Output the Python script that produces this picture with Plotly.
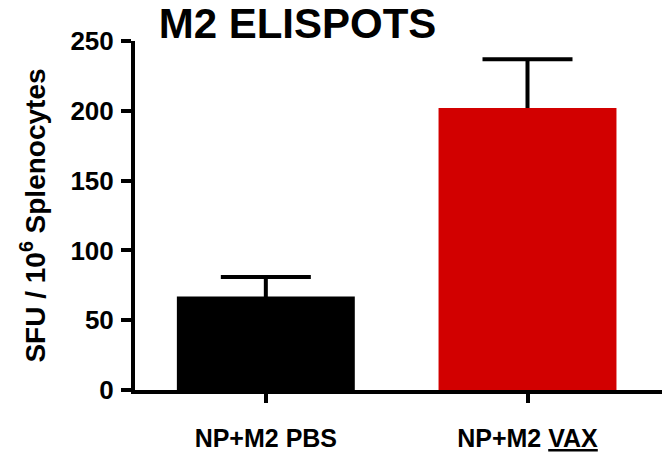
import plotly.graph_objects as go

categories = ["NP+M2 PBS", "NP+M2 <u>VAX</u>"]
means = [67, 202]
errors = [14, 35]
bar_colors = ["#000000", "#d20000"]
y_ticks = [0, 50, 100, 150, 200, 250]

FONT = "Arial, Liberation Sans, sans-serif"

fig = go.Figure()
# error bars underneath (hidden lower half behind the bars)
fig.add_trace(go.Bar(
    x=[0, 1],
    y=means,
    width=0.68,
    marker=dict(color="rgba(0,0,0,0)", line=dict(width=0)),
    error_y=dict(type="data", symmetric=True, array=errors,
                 color="#000000", thickness=4, width=45),
    showlegend=False, hoverinfo="skip",
))
fig.add_trace(go.Bar(
    x=[0, 1],
    y=means,
    width=0.68,
    marker=dict(color=bar_colors, line=dict(width=0)),
    showlegend=False,
))

fig.update_layout(
    width=662, height=453,
    margin=dict(l=135, r=0, t=41, b=63, autoexpand=False),
    paper_bgcolor="white", plot_bgcolor="white",
    barmode="overlay",
    title=dict(text="<b>M2 ELISPOTS</b>", font=dict(family=FONT, size=42, color="black"),
               x=297.5 / 662, xref="container", xanchor="center",
               y=1 - 23 / 453, yref="container", yanchor="middle", automargin=False),
    font=dict(family=FONT, color="black"),
)

fig.update_xaxes(
    range=[-0.5, 1.514],
    tickvals=[0, 1], ticktext=["<b>" + c + "</b>" for c in categories],
    tickfont=dict(family=FONT, size=25, color="black"),
    ticks="outside", ticklen=9, tickwidth=4, tickcolor="black",
    showline=True, linewidth=4, linecolor="black",
    showgrid=False, zeroline=False, automargin=False,
    ticklabelstandoff=14,
)
fig.update_yaxes(
    range=[0, 250],
    tickvals=y_ticks, ticktext=["<b>%d</b>" % v for v in y_ticks],
    tickfont=dict(family=FONT, size=26, color="black"),
    ticks="outside", ticklen=10, tickwidth=4, tickcolor="black",
    showline=True, linewidth=4, linecolor="black",
    showgrid=False, zeroline=False, automargin=False,
    title=dict(text="<b>SFU / 10<sup>6</sup> Splenocytes</b>",
               font=dict(family=FONT, size=28, color="black"), standoff=18),
    ticklabelstandoff=2,
)

fig.write_html("out.html", config={"displayModeBar": False},
               post_script="document.body.style.margin='0';document.body.style.overflow='hidden';")
